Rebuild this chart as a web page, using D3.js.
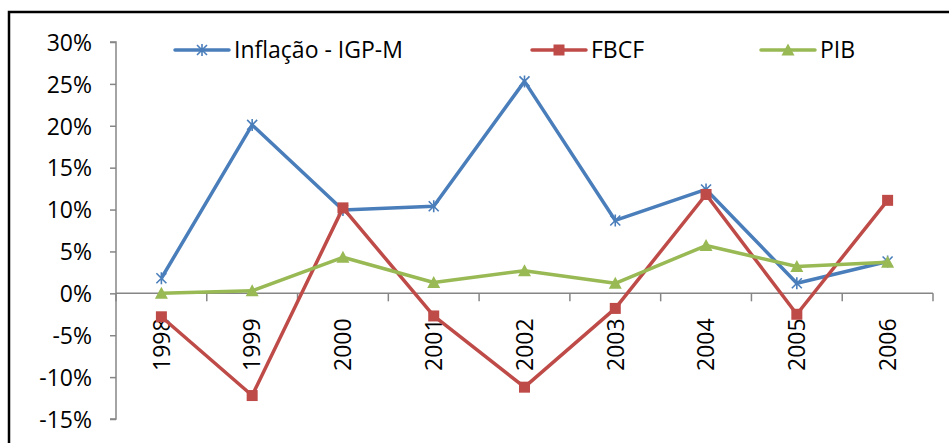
<!DOCTYPE html>
<html>
<head>
<meta charset="utf-8">
<script src="https://cdn.jsdelivr.net/npm/d3@7"></script>
<style>
  html, body { margin: 0; padding: 0; background: #fff; }
  svg { display: block; }
  text { font-family: "Open Sans", "Noto Sans", sans-serif; fill: #000; }
</style>
</head>
<body>
<svg id="chart" width="949" height="443"></svg>
<script>
// Anos e séries (variação anual, %)
const years = ["1998", "1999", "2000", "2001", "2002", "2003", "2004", "2005", "2006"];
const inflacao = [1.8, 20.1, 9.95, 10.4, 25.3, 8.7, 12.4, 1.2, 3.8];
const fbcf = [-2.8, -12.2, 10.2, -2.7, -11.2, -1.8, 11.8, -2.5, 11.1];
const pib = [0.0, 0.3, 4.3, 1.3, 2.7, 1.2, 5.7, 3.2, 3.7];
const yTicks = [-15, -10, -5, 0, 5, 10, 15, 20, 25, 30];

const series = [
  { name: "Inflação - IGP-M", values: inflacao, color: "#4A7EBB", marker: "star" },
  { name: "FBCF", values: fbcf, color: "#BE4B48", marker: "square" },
  { name: "PIB", values: pib, color: "#98B954", marker: "triangle" }
];

const FONT_SIZE = "23px";
const svg = d3.select("#chart");

// moldura do gráfico
svg.append("rect")
  .attr("x", 9).attr("y", 12)
  .attr("width", 960).attr("height", 460)
  .attr("fill", "none").attr("stroke", "#000").attr("stroke-width", 2.5);

const plotLeft = 116, plotRight = 933, plotTop = 42, plotBottom = 419;

const x = d3.scaleBand().domain(years).range([plotLeft, plotRight]);
const y = d3.scaleLinear().domain([-15, 30]).range([plotBottom, plotTop]);

// eixo Y
const yAxis = svg.append("g")
  .attr("transform", `translate(${plotLeft},0)`)
  .call(d3.axisLeft(y).tickValues(yTicks).tickSize(6).tickPadding(18)
    .tickFormat(d => d + "%"));
yAxis.selectAll("path, line").attr("stroke", "#868686").attr("stroke-width", 1.5);
yAxis.select(".domain").attr("d", `M-6,${y(30)}H0V${y(-15)}H-6`);
yAxis.selectAll("text").style("font-size", FONT_SIZE).attr("dy", "0.36em");

// eixo X na linha do zero
const xAxis = svg.append("g")
  .attr("transform", `translate(0,${y(0)})`)
  .call(d3.axisBottom(x).tickSize(0).tickFormat(d => d));
xAxis.select(".domain").attr("d", `M${plotLeft},0H${plotRight}`)
  .attr("stroke", "#868686").attr("stroke-width", 1.5);
// marcas entre categorias
const bounds = d3.range(years.length + 1).map(i => plotLeft + i * x.bandwidth());
xAxis.selectAll(".sep").data(bounds).join("line")
  .attr("class", "sep")
  .attr("x1", d => d).attr("x2", d => d)
  .attr("y1", 0).attr("y2", 8)
  .attr("stroke", "#868686").attr("stroke-width", 1.5);
xAxis.selectAll(".tick text")
  .style("font-size", FONT_SIZE)
  .attr("text-anchor", "end")
  .attr("transform", "rotate(-90)")
  .attr("x", -25).attr("y", 0).attr("dy", "0.36em");

const cx = d => x(d) + x.bandwidth() / 2;

function drawMarker(g, type, color) {
  if (type === "square") {
    g.append("rect").attr("x", -5.5).attr("y", -5.5).attr("width", 11).attr("height", 11)
      .attr("fill", color);
  } else if (type === "triangle") {
    g.append("path").attr("d", "M0,-6.5L6.5,5.5L-6.5,5.5Z").attr("fill", color);
  } else {
    g.append("path").attr("d", "M-5,-5L5,5M-5,5L5,-5M0,-6V6")
      .attr("stroke", color).attr("stroke-width", 1.6).attr("fill", "none");
  }
}

const line = d3.line().x((d, i) => cx(years[i])).y(d => y(d));

series.forEach(s => {
  svg.append("path")
    .attr("d", line(s.values))
    .attr("fill", "none")
    .attr("stroke", s.color)
    .attr("stroke-width", 3.5)
    .attr("stroke-linejoin", "round");
  s.values.forEach((v, i) => {
    const g = svg.append("g").attr("transform", `translate(${cx(years[i])},${y(v)})`);
    drawMarker(g, s.marker, s.color);
  });
});

// legenda
const legendX = [175, 532, 761];
const legendY = 50;
series.forEach((s, i) => {
  const g = svg.append("g").attr("transform", `translate(${legendX[i]},${legendY})`);
  g.append("line").attr("x1", 0).attr("x2", 54).attr("y1", 0).attr("y2", 0)
    .attr("stroke", s.color).attr("stroke-width", 3.5).attr("stroke-linecap", "round");
  const m = g.append("g").attr("transform", "translate(27,0)");
  drawMarker(m, s.marker, s.color);
  g.append("text").attr("x", 59).attr("y", 0).attr("dy", "0.36em")
    .style("font-size", FONT_SIZE).text(s.name);
});
</script>
</body>
</html>
